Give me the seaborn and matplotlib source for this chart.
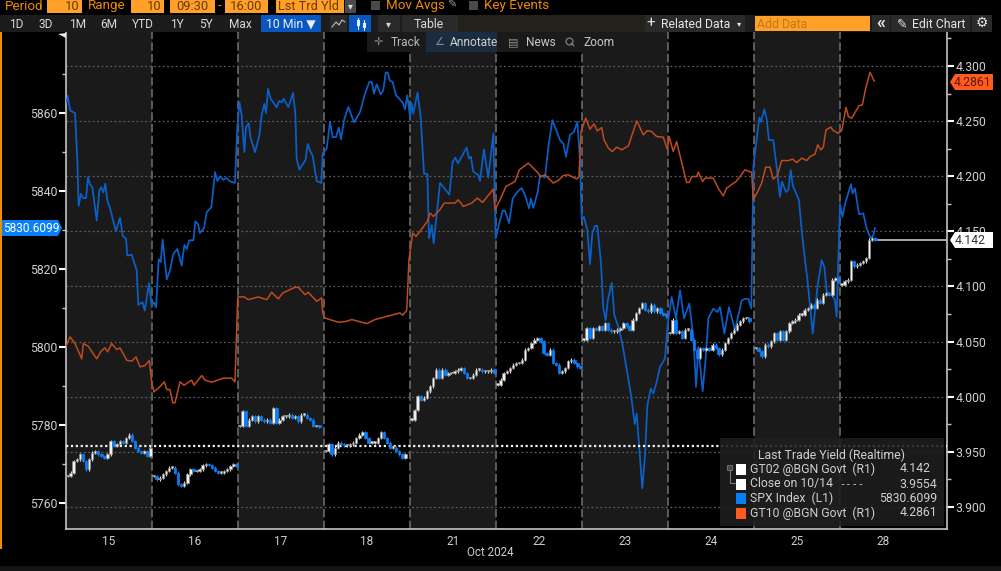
import matplotlib
matplotlib.use("Agg")
import matplotlib.pyplot as plt
from matplotlib.patches import Polygon, Rectangle
import seaborn as sns

# Data

day_labels = ["15", "16", "17", "18", "21", "22", "23", "24", "25", "28"]
left_ticks = [5760, 5780, 5800, 5820, 5840, 5860]
right_ticks = [3.90, 3.95, 4.00, 4.05, 4.10, 4.15, 4.20, 4.25, 4.30]
close_1014 = 3.9554
spx_last = 5830.6099
gt10_last = 4.2861
gt02_last = 4.142

# SPX, time is in trading days since the 15th
spx_time = [
    .01, .02, .047, .105, .132, .147, .174, .202, .233, .256, .279, .306, .357, .388, .407, .434, .457, .484, .504,
    .581, .628, .659, .698, .713, .764, .822, .841, .891, .915, .965, .996,
    1.023, 1.047, 1.078, 1.101, 1.124, 1.171, 1.209, 1.248, 1.295, 1.345, 1.376, 1.403, 1.434, 1.481, 1.504, 1.535,
    1.558, 1.605, 1.636, 1.69, 1.733, 1.76, 1.791, 1.829, 1.868, 1.899, 1.965,
    1.992, 2.016, 2.043, 2.074, 2.093, 2.124, 2.147, 2.198, 2.248, 2.275, 2.306, 2.326, 2.349, 2.38, 2.45, 2.477,
    2.508, 2.531, 2.585, 2.64, 2.667, 2.682, 2.713, 2.787, 2.81, 2.845, 2.868, 2.915, 2.969,
    2.985, 3.031, 3.07, 3.101, 3.14, 3.171, 3.198, 3.233, 3.283, 3.349, 3.419, 3.477, 3.527, 3.555, 3.581, 3.613,
    3.659, 3.69, 3.717, 3.741, 3.767, 3.798, 3.837, 3.915, 3.942, 3.969, 4.0, 4.019, 4.038, 4.088,
    4.124, 4.163, 4.202, 4.221, 4.252, 4.275, 4.349, 4.387, 4.457, 4.496, 4.527, 4.558, 4.659, 4.686, 4.709, 4.736,
    4.795, 4.814, 4.86, 4.91, 4.969, 4.997,
    5.038, 5.078, 5.105, 5.151, 5.194, 5.248, 5.299, 5.337, 5.384, 5.407, 5.434, 5.485, 5.512, 5.57, 5.609, 5.655,
    5.744, 5.783, 5.814, 5.86, 5.907, 5.945, 5.977,
    5.996, 6.023, 6.062, 6.093, 6.12, 6.151, 6.178, 6.221, 6.248, 6.276, 6.3, 6.346, 6.376, 6.423, 6.472, 6.57,
    6.613, 6.636, 6.701, 6.733, 6.76, 6.799, 6.83, 6.868, 6.907, 6.965, 6.997,
    7.043, 7.093, 7.14, 7.186, 7.248, 7.295, 7.326, 7.353, 7.403, 7.438, 7.469, 7.527, 7.574, 7.605, 7.655, 7.709,
    7.779, 7.857, 7.895, 7.934, 7.969, 7.992,
    8.062, 8.081, 8.12, 8.147, 8.174, 8.224, 8.264, 8.302, 8.326, 8.372, 8.399, 8.427, 8.45, 8.523, 8.554, 8.593,
    8.62, 8.683, 8.74, 8.787, 8.818, 8.845, 8.91, 8.942, 8.961,
    9.0, 9.027, 9.066, 9.128, 9.147, 9.174, 9.221, 9.271, 9.31, 9.357, 9.387, 9.407,
]
spx_level = [
    5862.8, 5864.5, 5860.7, 5860, 5847.9, 5836.2, 5839.3, 5838.2, 5838.2, 5843.6, 5841.7, 5841, 5832.5, 5840.2, 5841,
    5839.7, 5841.9, 5837.2, 5836.3,
    5829.7, 5833.2, 5828.6, 5827.8, 5823.5, 5823.7, 5819.7, 5810.9, 5811.5, 5809.4, 5816.4, 5810.7,
    5811.5, 5810.2, 5822.6, 5821.8, 5827.6, 5817.4, 5819.7, 5823.9, 5825.2, 5820.9, 5826.2, 5825.2, 5827.4, 5827.4,
    5832.2, 5831.6,
    5829.3, 5830.5, 5834.6, 5835.9, 5844.9, 5842.6, 5843.8, 5842.9, 5843.4, 5842.6, 5842.1,
    5856.4, 5862.8, 5859.4, 5850, 5856.4, 5857.4, 5853.7, 5850, 5854.3, 5859.4, 5862.4, 5860, 5866.2, 5863.7, 5861.5,
    5863.1,
    5862.8, 5863.7, 5861.5, 5865.2, 5859.8, 5848.3, 5845.5, 5848.1, 5852.1, 5850, 5849.1, 5842.6, 5842.1,
    5849.7, 5850.9, 5857.8, 5853.8, 5853.9, 5856.3, 5853.3, 5858.2, 5861.6, 5857.6, 5860.3, 5865, 5868, 5868, 5865,
    5867.4,
    5864.8, 5865.9, 5870.4, 5870.4, 5868.3, 5868, 5864.6, 5862.7, 5861, 5864.6, 5859, 5862.5, 5859.9, 5865.3,
    5859, 5844.5, 5844.4, 5827.9, 5831.3, 5826.6, 5842.1, 5841.1, 5839.1, 5847.5, 5848.6, 5847.1, 5851.2, 5848.4,
    5848.8, 5845,
    5844.1, 5842.6, 5850.7, 5843.5, 5854.8, 5827.9,
    5831.8, 5835, 5835, 5831.8, 5838.1, 5839.8, 5840.8, 5839, 5835.6, 5838.1, 5835.7, 5839.8, 5844.1, 5843.5, 5851.4,
    5858.2,
    5853.1, 5852.2, 5848.8, 5854.4, 5855.2, 5857.8, 5847.9,
    5832.6, 5833.4, 5830, 5821.3, 5829.2, 5831.1, 5831.1, 5821.5, 5809.9, 5806.9, 5812, 5816.5, 5808.2, 5805.2,
    5800.5, 5787.7,
    5780.3, 5783, 5763.8, 5772.3, 5785.1, 5789.4, 5788.1, 5791.1, 5795, 5797.1, 5806.1,
    5812.9, 5807.4, 5814.6, 5807.4, 5811.2, 5802.6, 5789.8, 5800.1, 5788.7, 5797.1, 5807.4, 5809.9, 5809, 5810.3,
    5803.5, 5810.3,
    5804.4, 5812, 5812.4, 5812.4, 5809.9, 5846.2,
    5858.9, 5857.8, 5861, 5858.6, 5853.1, 5853.1, 5846.2, 5838.5, 5842.4, 5839.8, 5840.3, 5845.4, 5841.5, 5837.7,
    5830, 5822.3,
    5817.6, 5803.5, 5815.9, 5822.3, 5820.6, 5814.2, 5813.3, 5812, 5807.8,
    5836.8, 5833.4, 5837.3, 5841.8, 5839.4, 5840.7, 5834.1, 5834.3, 5830.4, 5827.9, 5828.7, 5830.6,
]

# GT10 yield
gt10_time = [
    0.0, .047, .105, .183, .201, .259, .357, .407, .453, .485, .531, .59, .628, .706, .764, .814, .86, .919, .969,
    .997, 1.023, 1.085, 1.143, 1.171, 1.209, 1.241, 1.267, 1.326, 1.372, 1.462, 1.488, 1.578, 1.616, 1.694, 1.752,
    1.829, 1.927, 1.965, 1.997, 2.073, 2.12, 2.236, 2.334, 2.392, 2.469, 2.52, 2.663, 2.701, 2.779, 2.817, 2.915,
    2.973, 2.985, 3.012, 3.166, 3.264, 3.322, 3.497, 3.593, 3.884, 3.915, 3.962, 3.988,
    4.031, 4.07, 4.136, 4.201, 4.233, 4.271, 4.341, 4.399, 4.523, 4.561, 4.62, 4.717, 4.783, 4.845, 4.899, 4.969,
    4.988, 5.047, 5.116, 5.221, 5.271, 5.376, 5.492, 5.512, 5.57, 5.666, 5.724, 5.783, 5.841, 5.938, 5.965,
    5.988, 6.043, 6.093, 6.14, 6.178, 6.229, 6.256, 6.306, 6.353, 6.404, 6.462, 6.539, 6.637, 6.713, 6.76, 6.81,
    6.868, 6.945, 6.991, 7.014, 7.061, 7.1, 7.216, 7.247, 7.276, 7.334, 7.352, 7.403, 7.43, 7.526, 7.584, 7.643,
    7.682, 7.791, 7.837, 7.895, 7.973, 7.992, 8.043, 8.09, 8.136, 8.186, 8.224, 8.271, 8.322, 8.399, 8.45, 8.497,
    8.555, 8.613, 8.651, 8.709, 8.741, 8.779, 8.806, 8.837, 8.892, 8.922, 8.98, 9.02, 9.07, 9.097, 9.136, 9.221,
    9.26, 9.299, 9.349, 9.399,
]
gt10_yield = [
    4.0457, 4.0542, 4.0482, 4.0343, 4.0482, 4.0457, 4.0343, 4.0412, 4.0443, 4.0407, 4.0482, 4.0428, 4.0443, 4.0331,
    4.0322, 4.0361, 4.0271, 4.0283, 4.0328,
    4.0126, 4.0044, 4.0086, 4.0135, 4.0065, 4.0065, 3.9945, 3.9945, 4.0135, 4.0104, 4.015, 4.0104, 4.0192, 4.015,
    4.0132, 4.0147,
    4.0168, 4.0168, 4.0135, 4.0905, 4.0905, 4.088, 4.0905, 4.088, 4.0947, 4.0887, 4.0941, 4.0992, 4.0992, 4.0926,
    4.0947, 4.0865,
    4.0896, 4.076, 4.0714, 4.0675, 4.0684, 4.07, 4.0663, 4.07, 4.076, 4.0739, 4.0784, 4.1243,
    4.1485, 4.1454, 4.1521, 4.159, 4.1666, 4.1635, 4.169, 4.1756, 4.1756, 4.1786, 4.1726, 4.1756, 4.1802, 4.1762,
    4.1816, 4.1883,
    4.1696, 4.1786, 4.1907, 4.1952, 4.2058, 4.2119, 4.2028, 4.1992, 4.2013, 4.1938, 4.1961, 4.2006, 4.2013, 4.1974,
    4.1997,
    4.2405, 4.2526, 4.2427, 4.2475, 4.2411, 4.2441, 4.233, 4.2255, 4.2224, 4.2264, 4.2239, 4.2275, 4.2502, 4.2375,
    4.2414, 4.2405,
    4.236, 4.2354, 4.2245, 4.236, 4.2224, 4.2314, 4.1943, 4.1943, 4.1997, 4.1997, 4.2037, 4.1952, 4.1983, 4.1983,
    4.1892, 4.1822,
    4.1892, 4.1952, 4.1997, 4.2058, 4.2034, 4.1786, 4.1861, 4.1938, 4.2082, 4.2082, 4.1974, 4.2004, 4.2142, 4.2142,
    4.2155, 4.2124,
    4.2164, 4.2142, 4.2178, 4.22, 4.2284, 4.2239, 4.2264, 4.242, 4.2445, 4.2414, 4.239, 4.2414, 4.2626, 4.2541,
    4.2526, 4.264,
    4.2647, 4.2798, 4.2943, 4.2861,
]

# GT02 10 minute closes for each day
gt02_closes = [
    [3.928, 3.931, 3.9416, 3.9431, 3.9476, 3.9416, 3.934, 3.9431, 3.9491, 3.9506, 3.9476, 3.9461, 3.9446, 3.9476,
     3.9597, 3.9552, 3.9567, 3.9597, 3.9582, 3.9627, 3.9657, 3.9597, 3.9537, 3.9506, 3.9491, 3.9506, 3.9461, 3.9537],
    [3.928, 3.925, 3.9265, 3.9295, 3.9325, 3.9355, 3.9355, 3.931, 3.9204, 3.9189, 3.9219, 3.9295, 3.934, 3.9325,
     3.9325, 3.934, 3.9377, 3.9386, 3.938, 3.9355, 3.9325, 3.931, 3.931, 3.9325, 3.934, 3.937, 3.9386, 3.937],
    [3.9733, 3.9869, 3.9733, 3.9793, 3.9823, 3.9778, 3.9823, 3.9793, 3.9778, 3.9793, 3.9763, 3.9899, 3.9763, 3.9793,
     3.9823, 3.9823, 3.9838, 3.9808, 3.9823, 3.9778, 3.9838, 3.9838, 3.9808, 3.9793, 3.9733, 3.9733, 3.9727],
    [3.9506, 3.9567, 3.9476, 3.9537, 3.9582, 3.9567, 3.9558, 3.9558, 3.9567, 3.9582, 3.9627, 3.9657, 3.9678, 3.9627,
     3.9582, 3.9582, 3.9582, 3.9627, 3.9678, 3.9627, 3.9582, 3.9537, 3.9537, 3.9506, 3.9476, 3.9446, 3.9476],
    [3.9793, 3.9878, 4.0005, 3.9974, 3.999, 4.005, 4.0095, 4.0171, 4.0246, 4.0171, 4.0246, 4.0201, 4.0216, 4.0216,
     4.0231, 4.0246, 4.0261, 4.0216, 4.0171, 4.0171, 4.0201, 4.0246, 4.0246, 4.0231, 4.0231, 4.0231, 4.0246, 4.0216],
    [4.011, 4.0155, 4.0216, 4.0231, 4.0261, 4.0291, 4.0306, 4.0306, 4.0337, 4.0427, 4.0442, 4.0488, 4.0518, 4.0533,
     4.0503, 4.0397, 4.0382, 4.0427, 4.0306, 4.0291, 4.0216, 4.0231, 4.0261, 4.0322, 4.0337, 4.0306, 4.0276, 4.0261],
    [4.0518, 4.0624, 4.0534, 4.0624, 4.0609, 4.0639, 4.0609, 4.0669, 4.0609, 4.0594, 4.0594, 4.0609, 4.0624, 4.0669,
     4.0639, 4.0609, 4.07, 4.076, 4.0805, 4.085, 4.079, 4.0775, 4.0835, 4.0775, 4.0805, 4.076, 4.0745, 4.073],
    [4.0579, 4.07, 4.0579, 4.0594, 4.0534, 4.0609, 4.0609, 4.0518, 4.0428, 4.0352, 4.0443, 4.0428, 4.0443, 4.0428,
     4.0473, 4.0443, 4.0383, 4.0428, 4.0488, 4.0534, 4.0579, 4.0609, 4.0654, 4.0685, 4.0715, 4.0715, 4.0685],
    [4.0443, 4.0413, 4.0367, 4.0473, 4.0458, 4.0503, 4.0579, 4.0518, 4.0594, 4.0518, 4.0594, 4.0669, 4.0684, 4.0699,
     4.0745, 4.0745, 4.079, 4.0805, 4.0835, 4.0805, 4.0881, 4.085, 4.0926, 4.0941, 4.0926, 4.1062, 4.1077, 4.1047],
    [4.1017, 4.1047, 4.1062, 4.1228, 4.1183, 4.1198, 4.1213, 4.1228, 4.1258, 4.1424, 4.1439, 4.142],
]

BG = "#000000"
BAND = "#1a1a1a"
GRID = "#5c5c5c"
AXIS = "#c4c4c4"
TEXT = "#cfcfcf"
AMBER = "#f08c00"
BOX = "#ffa028"
BLUE_LINE = "#0a60c8"
BLUE = "#0a7ffa"
RUST = "#bf4a1e"
ORANGE = "#ff5a1f"

sns.set_theme(style="dark", rc={"axes.facecolor": BG, "figure.facecolor": BG})
plt.rcParams["font.family"] = ["Roboto", "DejaVu Sans"]

W, H = 1001, 571
fig = plt.figure(figsize=(W / 100, H / 100), dpi=100)
fig.patch.set_facecolor(BG)

# plot area in pixels: x 66-947, y 32-529
ax_l = fig.add_axes([66 / W, 1 - 529 / H, (947 - 66) / W, (529 - 32) / H])
ax_r = ax_l.twinx()

ax_l.set_xlim(0, 881 / 86)
ax_l.set_ylim(5753.4, 5880.8)
ax_r.set_ylim(3.880, 4.3308)
ax_l.grid(False)
ax_r.grid(False)

for i in range(0, 10, 2):
    ax_l.axvspan(i, i + 1, color=BAND, lw=0, zorder=0)
for i in range(1, 10):
    ax_l.axvline(i, color="#6a6a6a", lw=1.2, ls=(0, (5, 2)), zorder=1)
for t in right_ticks:
    ax_l.axhline(ax_l.get_ylim()[0] + (t - 3.880) / (4.3308 - 3.880) * (5880.8 - 5753.4),
                 color=GRID, lw=0.9, ls=(0, (1.5, 2)), zorder=1)

sns.lineplot(x=spx_time, y=spx_level, estimator=None, sort=False, color=BLUE_LINE, lw=1.25, ax=ax_l, zorder=3)
sns.lineplot(x=gt10_time, y=gt10_yield, estimator=None, sort=False, color=RUST, lw=1.1, ax=ax_r, zorder=3)

ax_r.axhline(close_1014, xmax=1.0, color="#f2f2f2", lw=1.6, ls=(0, (1, 1.2)), zorder=4)

# candles, one body per 10 minute bar
bar_step = 1 / 28
for day, closes in enumerate(gt02_closes):
    prev = closes[0]
    for i, c in enumerate(closes):
        x = day + (i + 0.5) * bar_step
        up = c >= prev
        low, top = min(prev, c), max(prev, c)
        ax_r.vlines(x, low - 0.0012, top + 0.0012, color="#e8e8e8" if up else BLUE, lw=0.8, zorder=5)
        ax_r.bar(x, max(top - low, 0.0012), bottom=low, width=bar_step * 0.8,
                 color="#f0f0f0" if up else BLUE, edgecolor="#8c8c8c" if up else BLUE, lw=0.5, zorder=6)
        prev = c

ax_r.plot([9.41, 881 / 86], [gt02_last, gt02_last], color=AXIS, lw=1.2, zorder=4)

for a in (ax_l, ax_r):
    for s in a.spines.values():
        s.set_visible(False)
ax_l.spines["left"].set_visible(True)
ax_l.spines["left"].set_color(AXIS)
ax_l.spines["left"].set_linewidth(1.2)
ax_l.spines["bottom"].set_visible(True)
ax_l.spines["bottom"].set_color(AXIS)
ax_l.spines["bottom"].set_linewidth(1.2)
ax_r.spines["right"].set_visible(True)
ax_r.spines["right"].set_color(AXIS)
ax_r.spines["right"].set_linewidth(1.2)

ax_l.set_xticks([i + 0.5 for i in range(10)])
ax_l.set_xticklabels(day_labels, fontsize=8.5, color=TEXT)
ax_l.tick_params(axis="x", length=0, pad=4)
ax_l.set_yticks(left_ticks)
ax_l.set_yticks([5770, 5790, 5810, 5830, 5850, 5870], minor=True)
ax_l.set_yticklabels([str(v) for v in left_ticks], fontsize=8.8, color=TEXT)
ax_l.tick_params(axis="y", which="major", left=True, length=5, width=1.5, color="white", pad=1)
ax_l.tick_params(axis="y", which="minor", left=True, length=3, width=1, color=AXIS)
ax_r.set_yticks(right_ticks)
ax_r.set_yticks([3.925, 3.975, 4.025, 4.075, 4.125, 4.175, 4.225, 4.275, 4.325], minor=True)
ax_r.set_yticklabels([f"{v:.3f}" for v in right_ticks], fontsize=8.8, color=TEXT)
ax_r.tick_params(axis="y", which="major", right=True, length=5, width=1.5, color="white", pad=1)
ax_r.tick_params(axis="y", which="minor", right=True, length=3, width=1, color=AXIS)
ax_l.set_xlabel("")
ax_l.set_ylabel("")
ax_r.set_ylabel("")

# terminal chrome, drawn in pixel coordinates on top of the chart
ui = fig.add_axes([0, 0, 1, 1], zorder=10)
ui.set_xlim(0, W)
ui.set_ylim(H, 0)
ui.axis("off")
ui.patch.set_alpha(0)


def box(x0, y0, x1, y1, color, **kw):
    ui.add_patch(Rectangle((x0, y0), x1 - x0, y1 - y0, facecolor=color, edgecolor="none", **kw))


def label(x, y, s, color=TEXT, size=8.6, ha="left", **kw):
    ui.text(x, y, s, color=color, fontsize=size, ha=ha, va="center", **kw)


# top row
DARK_TXT = "#6b3a00"
label(5, 6, "Period", AMBER, 9.6)
label(88, 6, "Range", AMBER, 9.6)
for x0, x1 in [(47, 82), (131, 164), (170, 215), (225, 268), (276, 344)]:
    box(x0, 0, x1, 13, BOX)
label(79, 6, "10", DARK_TXT, 9.4, ha="right")
label(161, 6, "10", DARK_TXT, 9.4, ha="right")
label(192, 6, "09:30", DARK_TXT, 9.4, ha="center")
label(220, 6, "-", AMBER, 9.4, ha="center")
label(246, 6, "16:00", DARK_TXT, 9.4, ha="center")
label(278, 6, "Lst Trd Yld", DARK_TXT, 9.2)
box(345, 0, 356, 13, "#4a4a4a")
label(350.5, 6, "▾", "#e0e0e0", 7, ha="center")
box(371, 1, 380, 10, "#4a4a4a")
label(386, 6, "Mov Avgs", AMBER, 9.6)
label(452, 5, "✎", "#9a9a9a", 8, ha="center")
box(469, 1, 478, 10, "#4a4a4a")
label(484, 6, "Key Events", AMBER, 9.6)

# button row
box(0, 15, 990, 32, "#1c1c1c")
for x, s in zip([16, 46, 78, 109, 143, 177, 206, 240], ["1D", "3D", "1M", "6M", "YTD", "1Y", "5Y", "Max"]):
    label(x, 24, s, "#d8d8d8", 8.6, ha="center")
box(261, 15, 321, 32, "#0a56c0")
label(291, 24, "10 Min ▼", "#e8f0ff", 8.8, ha="center")
box(330, 15, 347, 32, "#2a2a2a")
ui.plot([332, 336, 339, 342, 345], [27, 22, 25, 20, 22], color="#c0c0c0", lw=0.8)
box(349, 15, 371, 32, "#0a56c0")
ui.plot([358, 358], [18, 29], color="#e8f0ff", lw=0.8)
box(356.5, 20, 359.5, 26, "#e8f0ff")
ui.plot([364, 364], [20, 30], color="#e8f0ff", lw=0.8)
box(362.5, 23, 365.5, 28, "#e8f0ff")
box(378, 15, 400, 32, "#2a2a2a")
label(388, 24, "▾", "#d8d8d8", 7, ha="center")
box(402, 15, 458, 32, "#2a2a2a")
label(429, 24, "Table", "#d8d8d8", 8.8, ha="center")
box(458, 15, 645, 32, "#24211c")
box(645, 15, 745, 32, "#2a2a2a")
label(651, 23, "+", "#e6e6e6", 11, ha="center")
label(661, 24, "Related Data", "#e6e6e6", 8.8)
label(739, 24, "▾", "#e6e6e6", 6, ha="center")
box(755, 16, 870, 31, BOX)
label(757, 24, "Add Data", "#c07818", 8.8)
box(872, 15, 890, 32, "#2a2a2a")
label(881, 23, "«", "#e6e6e6", 13, ha="center", fontweight="bold")
box(891, 15, 970, 32, "#2a2a2a")
label(902, 24, "✎", "#e6e6e6", 9, ha="center")
label(912, 24, "Edit Chart", "#e6e6e6", 8.8)
box(972, 15, 992, 32, "#2a2a2a")
label(982, 23, "⚙", "#e6e6e6", 10, ha="center")

# floating chart tools
box(367, 32, 616, 52, "#1a1a1a")
box(426, 32, 497, 52, "#1c2c40")
label(378, 42, "✛", "#8a8a8a", 8, ha="center")
label(391, 42, "Track", "#b8b8b8", 8.6)
label(439, 42, "∠", "#8a8a8a", 8, ha="center")
label(450, 42, "Annotate", "#d0d0d0", 8.6)
label(513, 42, "▤", "#8a8a8a", 8, ha="center")
label(526, 42, "News", "#c8c8c8", 8.6)
ui.plot([569], [41], marker="o", ms=5, mfc="none", mec="#8a8a8a", mew=0.8)
ui.plot([571, 574], [43, 46], color="#8a8a8a", lw=0.8)
label(583, 42, "Zoom", "#c8c8c8", 8.6)

# left edge and flag
box(0, 32, 2, 549, AMBER)
ui.add_patch(Polygon([(58, 34), (66, 33), (66, 38), (62, 36)], facecolor="#e8e8e8", edgecolor="none"))
box(0, 566, W, H, "#141414")

# value tags
ui.add_patch(Polygon([(2, 220), (58, 220), (62, 228), (58, 236), (2, 236)], facecolor=BLUE, edgecolor="none"))
label(3, 228, f"{spx_last:.4f}", "white", 8.6)
ui.add_patch(Polygon([(955, 74), (993, 74), (993, 90), (955, 90), (950, 82)], facecolor=ORANGE, edgecolor="none"))
label(991, 82.5, f"{gt10_last:.4f}", "#5a1a00", 8.8, ha="right")
ui.add_patch(Polygon([(955, 232), (993, 232), (993, 248), (955, 248), (950, 240)], facecolor="white", edgecolor="none"))
label(986, 240.5, f"{gt02_last:.3f}", "#333333", 8.8, ha="right")

label(490, 553, "Oct 2024", TEXT, 8.4, ha="center")

# legend panel
box(720, 438, 944, 526, "#1e1e1e", alpha=0.88)
label(758, 455, "Last Trade Yield (Realtime)", TEXT, 8.8)
legend_rows = [
    (469, "white", "GT02 @BGN Govt  (R1)", f"{gt02_last:.3f}", 931),
    (484, "white", "Close on 10/14", f"{close_1014:.4f}", 937),
    (498, BLUE, "SPX Index  (L1)", f"{spx_last:.4f}", 937),
    (513, ORANGE, "GT10 @BGN Govt  (R1)", f"{gt10_last:.4f}", 937),
]
for y, col, name, val, right in legend_rows:
    box(736, y - 5.5, 746, y + 5.5, col)
    label(750, y, name, TEXT, 8.8)
    label(right, y, val, TEXT, 8.8, ha="right")
label(839, 484, "----", TEXT, 7.5, family=["DejaVu Sans Mono"])
ui.add_patch(Rectangle((727, 465), 5, 5, facecolor="#444444", edgecolor="#777777", lw=0.6))
ui.plot([729.5, 729.5, 735], [470, 483, 483], color="#777777", lw=0.8)

fig.savefig("out.png", dpi=100, facecolor=BG)
